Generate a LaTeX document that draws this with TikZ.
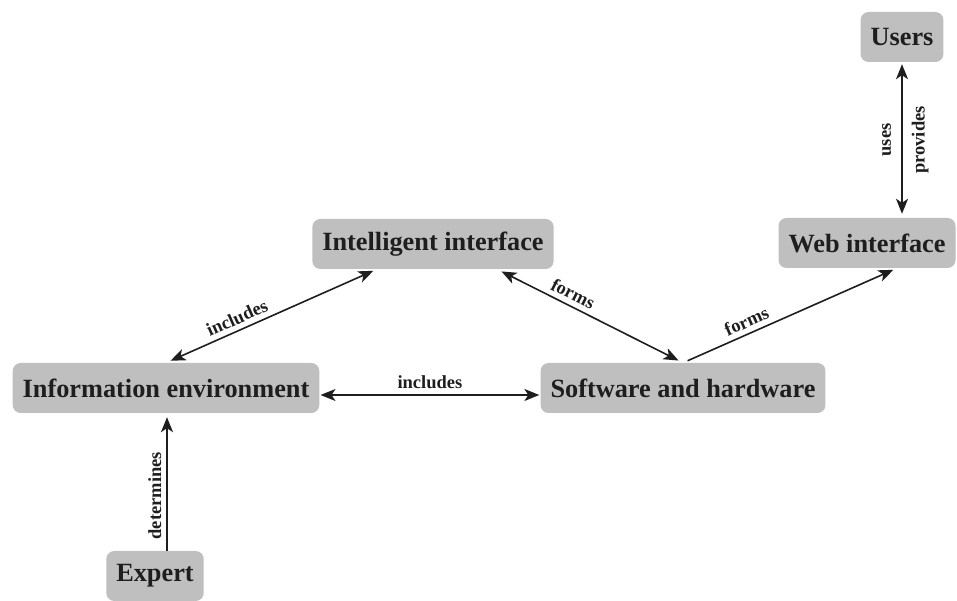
\documentclass[tikz,border=0pt]{standalone}
\usepackage{fontspec}
\setmainfont{Liberation Serif}
\usetikzlibrary{arrows.meta}
\definecolor{boxgray}{RGB}{191,191,191}
\definecolor{inkdark}{RGB}{30,30,30}
\begin{document}
\begin{tikzpicture}[x=1pt,y=1pt,
    box/.style={fill=boxgray, rounded corners=8pt, inner xsep=10pt, minimum height=50pt,
        text=inkdark, font=\fontsize{26.3}{30}\selectfont\bfseries},
    lbl/.style={font=\fontsize{18.5}{20}\selectfont\bfseries, text=inkdark, inner sep=5pt, sloped},
    link/.style={draw=inkdark, line width=1.6pt, -{Stealth[length=15pt,width=12pt,inset=4pt]}},
    biarrow/.style={link, {Stealth[length=15pt,width=12pt,inset=4pt]}-{Stealth[length=15pt,width=12pt,inset=4pt]}}]
        \path[use as bounding box] (0,0) rectangle (957,601);

        \node[box] (users) at (902,564) {Users};
        \node[box] (web) at (867,358) {Web interface};
        \node[box] (intel) at (433,357) {Intelligent interface};
        \node[box] (info) at (166,213) {Information environment};
        \node[box] (soft) at (683,213) {Software and hardware};
        \node[box] (expert) at (155,25) {Expert};

        \draw[biarrow,shorten <=4pt,shorten >=2pt] (web.north -| users.south) -- (users.south)
            node[lbl,above,midway,yshift=5pt] {uses}
            node[lbl,below,midway,yshift=-4pt] {provides};
        \draw[biarrow,shorten <=5pt,shorten >=4pt] (info.north) -- ([xshift=-56pt]intel.south)
            node[lbl,above,pos=0.36] {includes};
        \draw[biarrow,shorten <=1pt,shorten >=1pt] ([yshift=-7pt]info.east) -- ([yshift=-7pt]info.east -| soft.west)
            node[lbl,above,midway] {includes};
        \draw[biarrow,shorten <=5pt,shorten >=5pt] ([xshift=64pt]intel.south) -- (soft.north)
            node[lbl,above,pos=0.38] {forms};
        \draw[link,shorten <=5pt,shorten >=4pt] (soft.north) -- ([xshift=30pt]web.south)
            node[lbl,above,pos=0.32] {forms};
        \draw[link,shorten >=4pt] ([xshift=12pt]expert.north) -- ([xshift=12pt]expert.north |- info.south)
            node[lbl,above,pos=0.4] {determines};
\end{tikzpicture}
\end{document}
